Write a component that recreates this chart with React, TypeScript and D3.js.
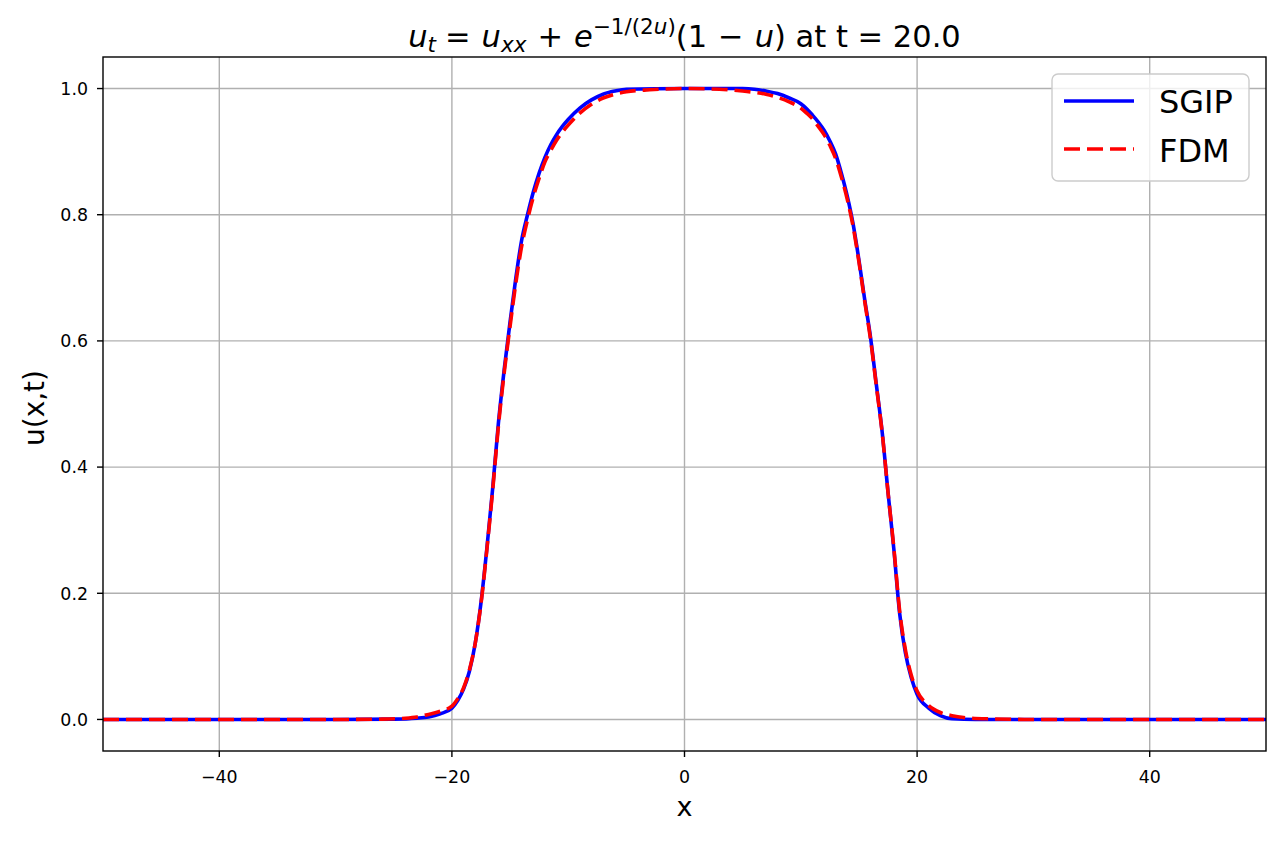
import React from 'react'
import * as d3 from 'd3'

// values
const sgipX = [-50, -30, -25, -23, -22, -21, -20, -19.5, -19, -18.5, -18, -17.5, -17, -16.5, -16, -15.5, -15, -14.5, -14, -13.5, -13, -12.5, -12, -11.5, -11, -10.5, -10, -9, -8, -7, -6, -5, 0, 5, 6, 7, 8, 9, 10, 10.5, 11, 11.5, 12, 12.5, 13, 13.5, 14, 14.5, 15, 15.5, 16, 16.5, 17, 17.5, 18, 18.5, 19, 19.5, 20, 21, 22, 23, 25, 50]
const sgipU = [0, 0, 0.0005, 0.002, 0.004, 0.009, 0.018, 0.03, 0.048, 0.076, 0.12, 0.185, 0.27, 0.365, 0.47, 0.555, 0.63, 0.7, 0.76, 0.8, 0.836, 0.866, 0.891, 0.911, 0.927, 0.94, 0.951, 0.969, 0.982, 0.991, 0.996, 0.999, 1.0, 1.0, 0.999, 0.996, 0.992, 0.985, 0.976, 0.968, 0.958, 0.947, 0.934, 0.917, 0.896, 0.865, 0.829, 0.785, 0.728, 0.665, 0.605, 0.53, 0.455, 0.36, 0.27, 0.168, 0.105, 0.066, 0.04, 0.018, 0.006, 0.001, 0, 0]

const fdmX = [-50, -30, -26, -24, -23, -22, -21, -20, -19.5, -19, -18.5, -18, -17.5, -17, -16.5, -16, -15.5, -15, -14.5, -14, -13.5, -13, -12.5, -12, -11.5, -11, -10.5, -10, -9, -8, -7, -6, -5, -3, 0, 3, 5, 7, 8, 9, 10, 10.5, 11, 11.5, 12, 12.5, 13, 13.5, 14, 14.5, 15, 15.5, 16, 16.5, 17, 17.5, 18, 18.5, 19, 19.5, 20, 21, 22, 23, 24, 26, 30, 50]
const fdmU = [0, 0, 0.0005, 0.002, 0.004, 0.008, 0.013, 0.021, 0.033, 0.05, 0.078, 0.12, 0.183, 0.268, 0.362, 0.465, 0.55, 0.623, 0.692, 0.75, 0.792, 0.828, 0.858, 0.884, 0.902, 0.918, 0.931, 0.942, 0.961, 0.975, 0.985, 0.991, 0.995, 0.998, 1.0, 0.999, 0.996, 0.991, 0.986, 0.979, 0.969, 0.961, 0.952, 0.94, 0.927, 0.91, 0.889, 0.859, 0.824, 0.781, 0.725, 0.662, 0.602, 0.528, 0.454, 0.36, 0.272, 0.172, 0.11, 0.07, 0.045, 0.022, 0.011, 0.006, 0.003, 0.001, 0, 0]

const xTicks = [-40, -20, 0, 20, 40]
const yTicks = [0, 0.2, 0.4, 0.6, 0.8, 1.0]

const W = 1281
const H = 841
const left = 103
const right = 1266
const top = 57
const bottom = 751
const font = 'DejaVu Sans, sans-serif'

const App = () => {
  const x = d3.scaleLinear().domain([-50, 50]).range([left, right])
  const y = d3.scaleLinear().domain([-0.05, 1.05]).range([bottom, top])

  const line = d3
    .line<[number, number]>()
    .x(d => x(d[0]))
    .y(d => y(d[1]))
    .curve(d3.curveMonotoneX)

  const sgip = sgipX.map((v, i) => [v, sgipU[i]] as [number, number])
  const fdm = fdmX.map((v, i) => [v, fdmU[i]] as [number, number])
  const fmt = (v: number) => String(v).replace('-', '\u2212')

  const tf = 30.5
  const sf = 21.5
  const gap = 11

  return (
    <svg width={W} height={H} style={{ display: 'block', margin: '-8px' }} fontFamily={font}>
      <rect width={W} height={H} fill="white" />
      <defs>
        <clipPath id="plot">
          <rect x={left} y={top} width={right - left} height={bottom - top} />
        </clipPath>
      </defs>

      {/* grid */}
      <g stroke="#b0b0b0" strokeWidth={1.4}>
        {xTicks.map(t => (
          <line key={'gx' + t} x1={x(t)} x2={x(t)} y1={top} y2={bottom} />
        ))}
        {yTicks.map(t => (
          <line key={'gy' + t} x1={left} x2={right} y1={y(t)} y2={y(t)} />
        ))}
      </g>

      {/* curves */}
      <g clipPath="url(#plot)" fill="none" strokeWidth={3.6}>
        <path d={line(sgip) || ''} stroke="#0000ff" />
        <path d={line(fdm) || ''} stroke="#ff0000" strokeDasharray="16,7" />
      </g>

      {/* axes frame */}
      <rect x={left} y={top} width={right - left} height={bottom - top} fill="none" stroke="black" strokeWidth={1.4} />

      {/* ticks */}
      {xTicks.map(t => (
        <g key={'tx' + t}>
          <line x1={x(t)} x2={x(t)} y1={bottom} y2={bottom + 6} stroke="black" strokeWidth={1.4} />
          <text x={x(t)} y={bottom + 32} fontSize={17.4} textAnchor="middle">
            {fmt(t)}
          </text>
        </g>
      ))}
      {yTicks.map(t => (
        <g key={'ty' + t}>
          <line x1={left - 6} x2={left} y1={y(t)} y2={y(t)} stroke="black" strokeWidth={1.4} />
          <text x={left - 15} y={y(t) + 6.3} fontSize={17.4} textAnchor="end">
            {t.toFixed(1)}
          </text>
        </g>
      ))}

      {/* axis labels */}
      <text x={x(0)} y={816} fontSize={27} textAnchor="middle">
        x
      </text>
      <text transform={`translate(44, ${(top + bottom) / 2 + 4}) rotate(-90)`} fontSize={28} textAnchor="middle">
        u(x,t)
      </text>

      {/* title */}
      <text x={x(0)} y={47} fontSize={tf} textAnchor="middle">
        <tspan fontStyle="italic">u</tspan>
        <tspan fontStyle="italic" fontSize={sf} dy={5}>t</tspan>
        <tspan dy={-5} dx={gap - 2}>=</tspan>
        <tspan fontStyle="italic" dx={gap}>u</tspan>
        <tspan fontStyle="italic" fontSize={sf} dy={5}>xx</tspan>
        <tspan dy={-5} dx={gap}>+</tspan>
        <tspan fontStyle="italic" dx={gap}>e</tspan>
        <tspan fontSize={sf} dy={-13}>{'\u22121/(2'}</tspan>
        <tspan fontSize={sf} fontStyle="italic">u</tspan>
        <tspan fontSize={sf}>)</tspan>
        <tspan dy={13}>{'(1'}</tspan>
        <tspan dx={gap}>{'\u2212'}</tspan>
        <tspan fontStyle="italic" dx={gap}>u</tspan>
        <tspan>) at t = 20.0</tspan>
      </text>

      {/* legend */}
      <g>
        <rect x={1052} y={74} width={197} height={107} rx={6} fill="white" fillOpacity={0.8} stroke="#cccccc" strokeWidth={1.4} />
        <line x1={1064} x2={1134} y1={101} y2={101} stroke="#0000ff" strokeWidth={3.6} />
        <line x1={1064} x2={1134} y1={149} y2={149} stroke="#ff0000" strokeWidth={3.6} strokeDasharray="16,7" />
        <text x={1159} y={113} fontSize={32}>SGIP</text>
        <text x={1159} y={162} fontSize={32}>FDM</text>
      </g>
    </svg>
  )
}

export default App
